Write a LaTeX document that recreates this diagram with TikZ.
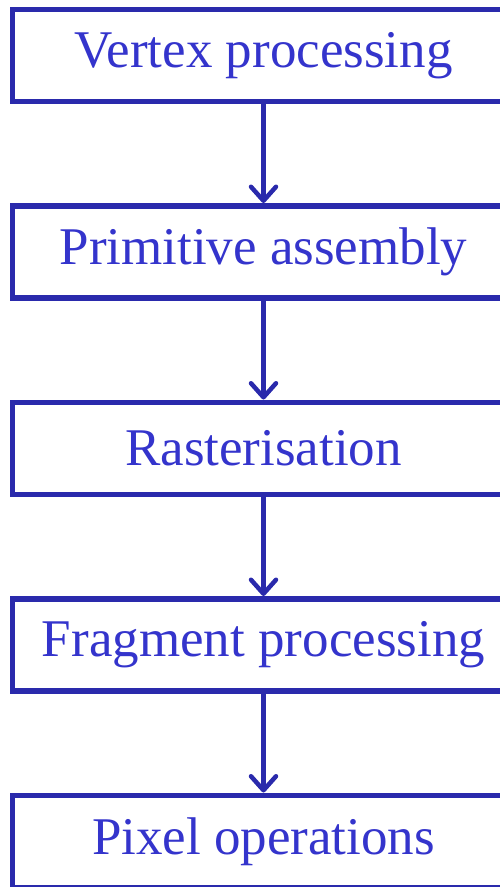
\documentclass[tikz,border=0pt]{standalone}
\usepackage{fontspec}
\setmainfont{Liberation Serif}
\usepackage{tikz}
\usetikzlibrary{positioning, arrows.meta}

\definecolor{boxblue}{RGB}{42,42,172}
\definecolor{textblue}{RGB}{52,52,204}

\begin{document}
\begin{tikzpicture}[x=1pt, y=1pt,
        stage/.style={draw=boxblue, line width=5.5pt, fill=white, minimum width=502.5pt,
            minimum height=92pt, inner sep=0pt, text=textblue,
            font=\fontsize{53}{60}\selectfont},
        flow/.style={draw=boxblue, line width=5pt,
            -{Straight Barb[length=14pt, width=25pt, line width=4.5pt, round]}},
        node distance=99pt]
    \useasboundingbox (0,0) rectangle (500,-887);
            \node (vertex) [stage, anchor=north west] at (9.5,-6.5) {Vertex processing};
            \node (assembly) [stage, below=of vertex] {Primitive assembly};
            \node (raster) [stage, below=of assembly] {Rasterisation};
            \node (fragment) [stage, below=of raster] {Fragment processing};
            \node (pixel) [stage, below=of fragment] {Pixel operations};
            \draw[flow] (vertex) -- (assembly);
            \draw[flow] (assembly) -- (raster);
            \draw[flow] (raster) -- (fragment);
            \draw[flow] (fragment) -- (pixel);
        \end{tikzpicture}
\end{document}
